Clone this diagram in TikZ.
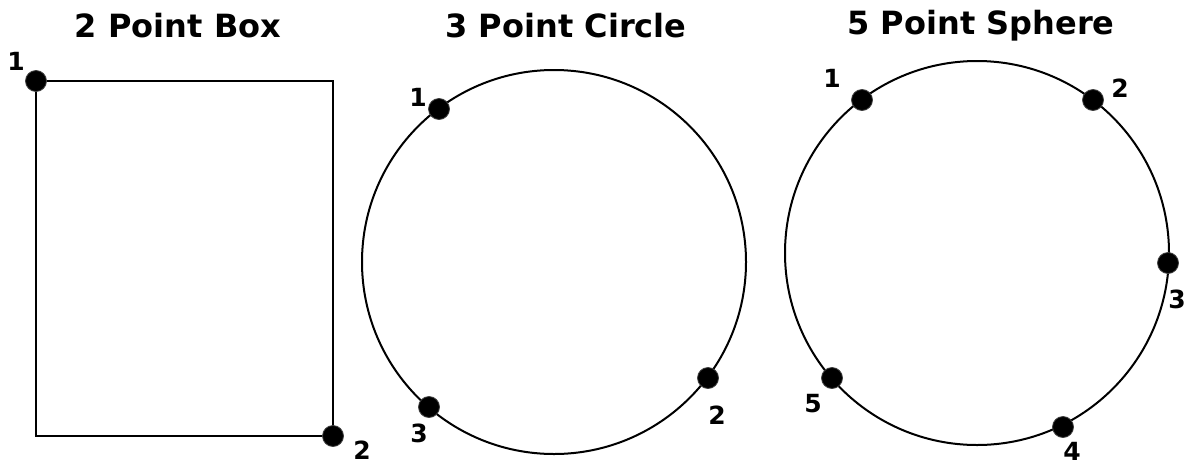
\documentclass[tikz,border=0pt]{standalone}
\usepackage{fontspec}
\setmainfont{DejaVu Sans}
\begin{document}
\begin{tikzpicture}[x=1pt,y=-1pt,
  shape line/.style={line width=2pt, black},
  pt/.style={circle, fill=black, draw=black!75, line width=0.8pt, minimum size=21pt, inner sep=0pt},
  title/.style={font=\fontsize{32}{35}\selectfont\bfseries, anchor=center, inner sep=0pt},
  lbl/.style={font=\fontsize{25}{27}\selectfont\bfseries, anchor=center, inner sep=0pt}]
\useasboundingbox (0,0) rectangle (1196,464);
% titles
\node[title] (t1) at (178,26) {2 Point Box};
\node[title] (t2) at (566,26) {3 Point Circle};
\node[title] (t3) at (981,26) {5 Point Sphere};
% box
\draw[shape line] (36,81) rectangle (333,436);
\node[pt] (b1) at (36,81) {};
\node[pt] (b2) at (333,436) {};
\node[lbl] (lb1) at (16,61) {1};
\node[lbl] (lb2) at (362,450) {2};
% circle
\draw[shape line] (554,262) circle[radius=192];
\node[pt] (c1) at (439,109) {};
\node[pt] (c2) at (708,378) {};
\node[pt] (c3) at (429,407) {};
\node[lbl] (lc1) at (418,97) {1};
\node[lbl] (lc2) at (717,415) {2};
\node[lbl] (lc3) at (419,433) {3};
% sphere
\draw[shape line] (977,253) circle[radius=192];
\node[pt] (s1) at (862,100) {};
\node[pt] (s2) at (1093,100) {};
\node[pt] (s3) at (1168,263) {};
\node[pt] (s4) at (1063,427) {};
\node[pt] (s5) at (832,378) {};
\node[lbl] (ls1) at (832,78) {1};
\node[lbl] (ls2) at (1120,88) {2};
\node[lbl] (ls3) at (1177,299) {3};
\node[lbl] (ls4) at (1072,451) {4};
\node[lbl] (ls5) at (813,404) {5};
\end{tikzpicture}
\end{document}
